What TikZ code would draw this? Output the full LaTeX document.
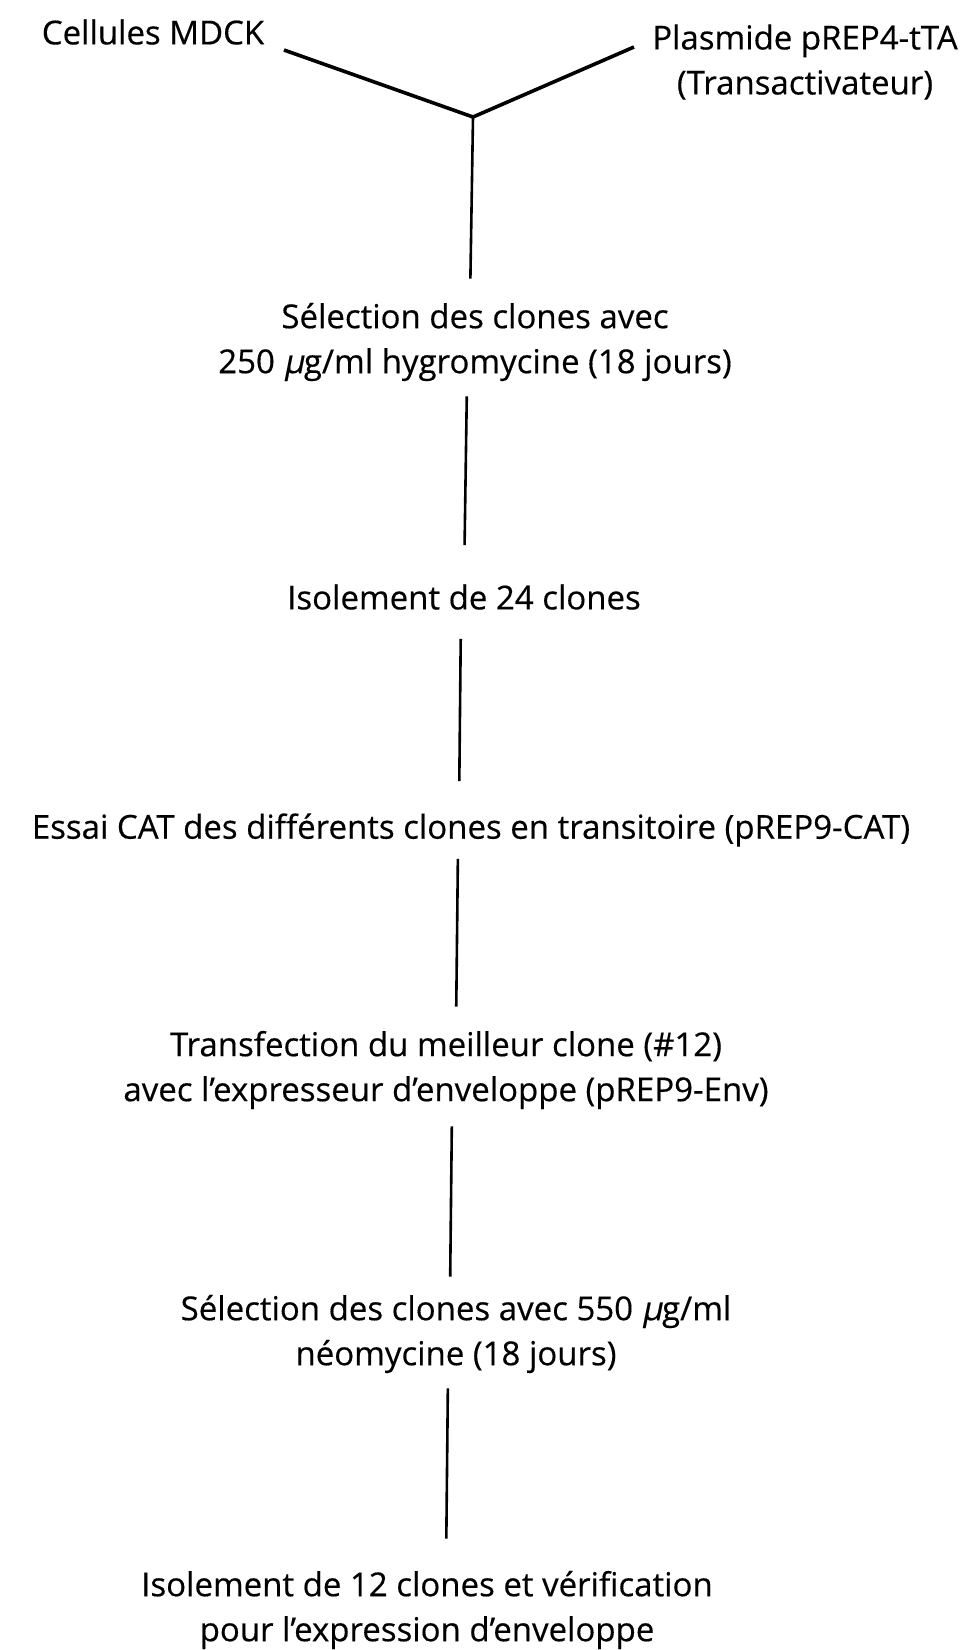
\documentclass[tikz,border=0pt]{standalone}
\usepackage{fontspec}
\setmainfont{Open Sans}[FakeBold=0.4]
\newcommand{\slmu}{{\addfontfeature{FakeSlant=0.2}µ}}
\begin{document}
\begin{tikzpicture}[x=1pt,y=-1pt]

      \useasboundingbox (0,0) rectangle (961,1650);

      \begin{scope}[every node/.style={align=center,inner sep=0pt,
          font=\fontsize{33}{45}\selectfont}]
        \node (mdck)     at (153,32)   {Cellules MDCK};
        \node (plasmide) at (805,62)   {Plasmide pREP4-tTA\\(Transactivateur)};
        \node (hygro)    at (475,342)  {Sélection des clones avec\\250 \slmu g/ml hygromycine (18 jours)};
        \node (iso24)    at (464,597)  {Isolement de 24 clones};
        \node (cat)      at (471,830)  {Essai CAT des différents clones en transitoire (pREP9-CAT)};
        \node (transf)   at (446,1070) {Transfection du meilleur clone (\#12)\\avec l'expresseur d'enveloppe (pREP9-Env)};
        \node (neo)      at (456,1334) {Sélection des clones avec 550 \slmu g/ml\\néomycine (18 jours)};
        \node (iso12)    at (427,1610) {Isolement de 12 clones et vérification\\pour l'expression d'enveloppe};
      \end{scope}

      \coordinate (join)     at (473,117);
      \coordinate (mdck-in)  at (284,50);
      \coordinate (plas-in)  at (634,47);

      \begin{scope}[every edge/.style={draw,line width=2.6pt}]
        \path (mdck-in) edge[line width=3.6pt] (join);
        \path (plas-in) edge[line width=3.6pt] (join);
        \path (join)    edge[shorten >=24pt] ([xshift=-5pt]hygro.north);
        \path ([xshift=-8pt]hygro.south)  edge[shorten <=15pt,shorten >=39pt] (iso24.north);
        \path ([xshift=-3pt]iso24.south)  edge[shorten <=29pt,shorten >=32pt] ([xshift=-12pt]cat.north);
        \path ([xshift=-13pt]cat.south)   edge[shorten <=12pt,shorten >=24pt] ([xshift=10pt]transf.north);
        \path ([xshift=6pt]transf.south)  edge[shorten <=17pt,shorten >=18pt] ([xshift=-6pt]neo.north);
        \path ([xshift=-8pt]neo.south)    edge[shorten <=15pt,shorten >=32pt] ([xshift=19pt]iso12.north);
      \end{scope}

    \end{tikzpicture}
\end{document}
